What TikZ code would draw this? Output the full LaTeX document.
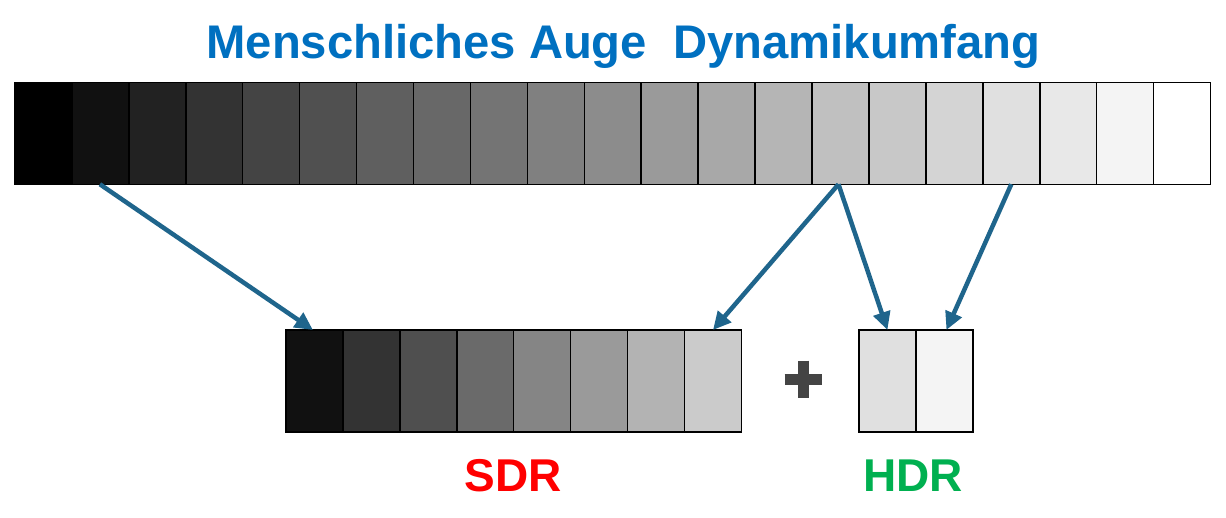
\documentclass[tikz,border=0pt]{standalone}
\usepackage{fontspec}
\setmainfont{Liberation Sans}
\usetikzlibrary{arrows.meta}
\definecolor{titleblue}{RGB}{0,112,192}
\definecolor{arrowblue}{RGB}{31,101,140}
\definecolor{sdrred}{RGB}{255,0,0}
\definecolor{hdrgreen}{RGB}{0,176,80}
\definecolor{plusgray}{RGB}{68,68,68}
\tikzset{
  cell/.style={draw=black, line width=1.5pt, minimum width=56.93pt, minimum height=102pt, inner sep=0pt, outer sep=0pt},
  conn/.style={draw=arrowblue, line width=4.5pt, -{Triangle[length=18pt,width=17pt]}, shorten >=0pt},
  lbl/.style={font=\bfseries\fontsize{46}{50}\selectfont, anchor=base, inner sep=0pt},
}
\begin{document}
\begin{tikzpicture}[x=1pt,y=-1pt]
\useasboundingbox (0,0) rectangle (1226,517);
\fill[white] (0,0) rectangle (1226,517);
% title
\node[lbl, font=\bfseries\fontsize{47.2}{50}\selectfont, text=titleblue] (title) at (623.5,58) {Menschliches Auge\ \ Dynamikumfang};
% top bar
\foreach \i/\g in {0/0,1/17,2/34,3/51,4/68,5/80,6/95,7/104,8/116,9/128,10/140,11/154,12/168,13/181,14/192,15/200,16/212,17/224,18/232,19/244,20/255}{
  \definecolor{c\i}{RGB}{\g,\g,\g}
  \node[cell, fill=c\i] (t\i) at ({15+28.465+56.93*\i},133.25) {};
}
% SDR bar
\foreach \i/\g in {0/17,1/51,2/79,3/106,4/133,5/154,6/179,7/203}{
  \definecolor{s\i}{RGB}{\g,\g,\g}
  \node[cell, fill=s\i] (s\i) at ({286+28.465+56.93*\i},381) {};
}
% HDR bar
\definecolor{hA}{RGB}{224,224,224}
\definecolor{hB}{RGB}{244,244,244}
\node[cell, fill=hA] (h0) at ({859+28.465},381) {};
\node[cell, fill=hB] (h1) at ({859+28.465+56.93},381) {};
% plus sign
\draw[plusgray, line width=11pt] (784.5,379) -- (821.5,379);
\draw[plusgray, line width=11pt] (803,360.5) -- (803,397.5);
% labels
\node[lbl, text=sdrred] (sdr) at (513.5,491) {SDR};
\node[lbl, text=hdrgreen] (hdr) at (913,491) {HDR};
% arrows
\draw[conn] ([xshift=-0.5pt]t1.south) -- ([xshift=-1.5pt]s0.north);
\draw[conn] ([xshift=-2pt]t14.south) -- (s7.north);
\draw[conn] ([xshift=-2pt]t14.south) -- (h0.north);
\draw[conn] (t17.south) -- ([xshift=2pt]h1.north);
\end{tikzpicture}
\end{document}
